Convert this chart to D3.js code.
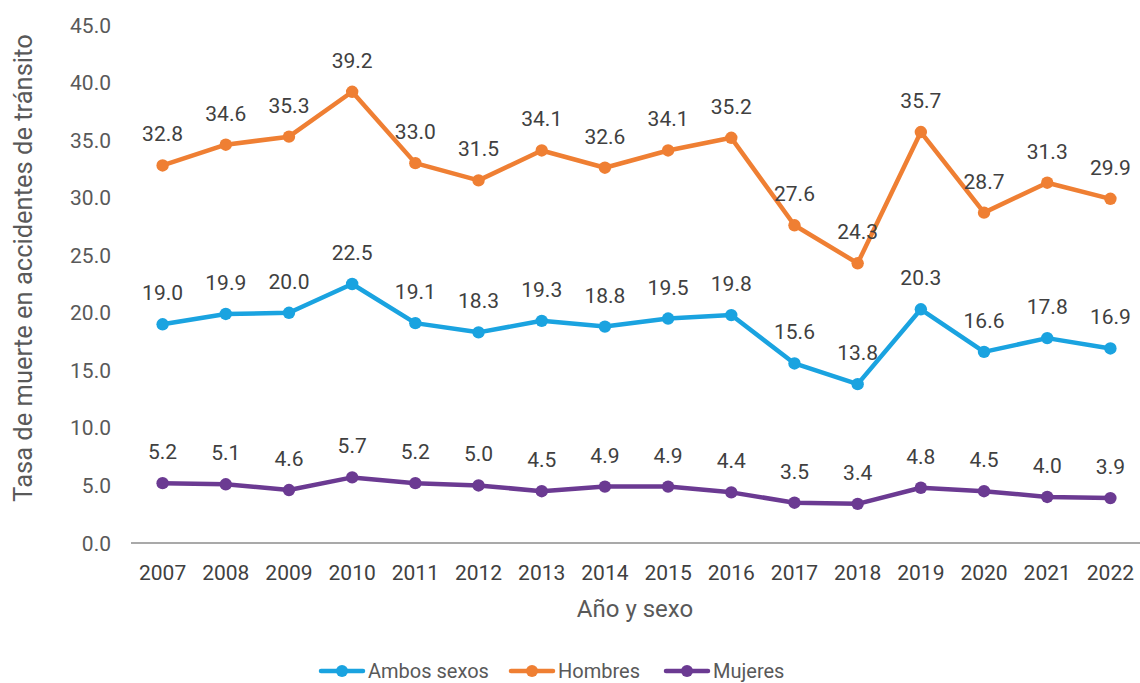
<!DOCTYPE html>
<html>
<head>
<meta charset="utf-8">
<script src="https://cdn.jsdelivr.net/npm/d3@7"></script>
<style>
  body { margin: 0; background: #fff; }
  svg text { font-family: Roboto, "Noto Sans", sans-serif; }
</style>
</head>
<body>
<svg id="chart" width="1140" height="683"></svg>
<script>
const years = ["2007", "2008", "2009", "2010", "2011", "2012", "2013", "2014", "2015", "2016", "2017", "2018", "2019", "2020", "2021", "2022"];
const ambos = [19.0, 19.9, 20.0, 22.5, 19.1, 18.3, 19.3, 18.8, 19.5, 19.8, 15.6, 13.8, 20.3, 16.6, 17.8, 16.9];
const hombres = [32.8, 34.6, 35.3, 39.2, 33.0, 31.5, 34.1, 32.6, 34.1, 35.2, 27.6, 24.3, 35.7, 28.7, 31.3, 29.9];
const mujeres = [5.2, 5.1, 4.6, 5.7, 5.2, 5.0, 4.5, 4.9, 4.9, 4.4, 3.5, 3.4, 4.8, 4.5, 4.0, 3.9];
const yTicks = [0, 5, 10, 15, 20, 25, 30, 35, 40, 45];

const series = [
  { name: "Ambos sexos", values: ambos, color: "#1aa3e0" },
  { name: "Hombres", values: hombres, color: "#ef7f33" },
  { name: "Mujeres", values: mujeres, color: "#6b3a92" },
];

const svg = d3.select("#chart");
const margin = { left: 131, right: -2 };
const W = 1140;

const x = d3.scaleBand().domain(years).range([margin.left, W - margin.right]);
const y = d3.scaleLinear().domain([0, 45]).range([543, 25]);

// y tick labels
svg.append("g").selectAll("text").data(yTicks).join("text")
  .attr("x", 111).attr("y", d => y(d)).attr("dy", "0.36em")
  .attr("text-anchor", "end").attr("font-size", 21).attr("fill", "#595959")
  .text(d => d.toFixed(1));

// baseline
svg.append("line")
  .attr("x1", margin.left).attr("x2", W).attr("y1", y(0)).attr("y2", y(0))
  .attr("stroke", "#8c8c8c").attr("stroke-width", 1.5);

// x tick labels
svg.append("g").selectAll("text").data(years).join("text")
  .attr("x", d => x(d) + x.bandwidth() / 2).attr("y", 580)
  .attr("text-anchor", "middle").attr("font-size", 21).attr("fill", "#404040")
  .text(d => d);

// axis titles
svg.append("text")
  .attr("transform", `translate(32,268) rotate(-90)`)
  .attr("text-anchor", "middle").attr("font-size", 25.5).attr("fill", "#595959")
  .text("Tasa de muerte en accidentes de tránsito");
svg.append("text")
  .attr("x", 635).attr("y", 617).attr("text-anchor", "middle")
  .attr("font-size", 24).attr("fill", "#595959")
  .text("Año y sexo");

const cx = (d, i) => x(years[i]) + x.bandwidth() / 2;
const line = d3.line().x(cx).y(d => y(d));

series.forEach(s => {
  const g = svg.append("g");
  g.append("path").datum(s.values)
    .attr("fill", "none").attr("stroke", s.color).attr("stroke-width", 4.5)
    .attr("stroke-linejoin", "round").attr("d", line);
  g.selectAll("circle").data(s.values).join("circle")
    .attr("cx", cx).attr("cy", d => y(d)).attr("r", 6.2).attr("fill", s.color);
  g.selectAll("text").data(s.values).join("text")
    .attr("x", cx).attr("y", d => y(d) - 24)
    .attr("text-anchor", "middle").attr("font-size", 21).attr("fill", "#404040")
    .text(d => d.toFixed(1));
});

// legend (sits at the bottom edge, as in the source)
const legendX = [321, 511, 666];
const leg = svg.append("g").selectAll("g").data(series).join("g")
  .attr("transform", (d, i) => `translate(${legendX[i]},671)`);
leg.append("line").attr("x1", 0).attr("x2", 42).attr("y1", 0).attr("y2", 0)
  .attr("stroke", d => d.color).attr("stroke-width", 4.5).attr("stroke-linecap", "round");
leg.append("circle").attr("cx", 21).attr("cy", 0).attr("r", 6).attr("fill", d => d.color);
leg.append("text").attr("x", 47).attr("y", 0).attr("dy", "0.36em")
  .attr("font-size", 20).attr("fill", "#595959").text(d => d.name);
</script>
</body>
</html>
